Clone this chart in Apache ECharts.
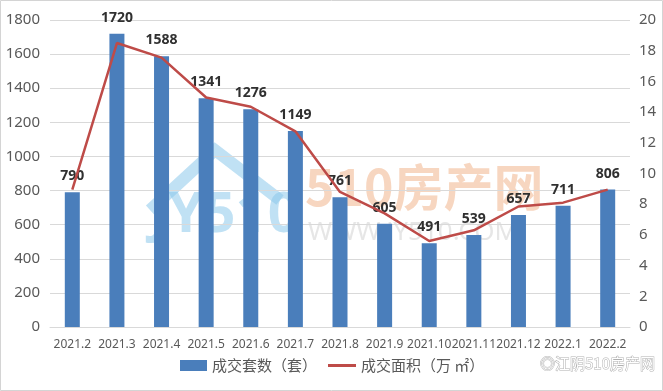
<!DOCTYPE html>
<html><head><meta charset="utf-8">
<script src="https://cdn.jsdelivr.net/npm/echarts@6/dist/echarts.min.js"></script>
<style>html,body{margin:0;padding:0;background:#fff}#c{width:663px;height:391px}</style>
</head><body><div id="c"></div>
<script>
const categories = ['2021.2','2021.3','2021.4','2021.5','2021.6','2021.7','2021.8','2021.9','2021.10','2021.11','2021.12','2022.1','2022.2'];
const unitsSold = [790,1720,1588,1341,1276,1149,761,605,491,539,657,711,806];
const areaSold = [8.95,18.5,17.55,14.95,14.35,12.75,8.8,7.4,5.6,6.3,7.85,8.1,8.95];
const leftTicks = {min:0,max:1800,interval:200};
const rightTicks = {min:0,max:20,interval:2};

const chart = echarts.init(document.getElementById('c'));
chart.setOption({
  animation:false,
  textStyle:{fontFamily:'Noto Sans, Noto Sans CJK SC'},
  grid:{left:50,right:33,top:20,bottom:64},
  legend:[
    {left:175,bottom:13,itemWidth:27,itemHeight:11,
     textStyle:{color:'#595959',fontSize:15,fontFamily:'Noto Sans CJK SC'},
     data:[{name:'成交套数（套）',icon:'rect'}]},
    {left:323,bottom:13,itemWidth:28,itemHeight:3,
     textStyle:{color:'#595959',fontSize:15,fontFamily:'Noto Sans CJK SC'},
     data:[{name:'成交面积（万 ㎡）',icon:'rect'}]}
  ],
  xAxis:{
    type:'category',data:categories,
    axisLine:{show:true,lineStyle:{color:'#d9d9d9',width:1}},
    axisTick:{show:false},
    axisLabel:{color:'#595959',fontSize:12,margin:12,interval:0}
  },
  yAxis:[
    {type:'value',min:leftTicks.min,max:leftTicks.max,interval:leftTicks.interval,
     axisLine:{show:false},axisTick:{show:false},
     axisLabel:{color:'#595959',fontSize:15,margin:10,formatter:v=>String(v)},
     splitLine:{lineStyle:{color:'#d9d9d9',width:1}}},
    {type:'value',min:rightTicks.min,max:rightTicks.max,interval:rightTicks.interval,
     axisLine:{show:false},axisTick:{show:false},
     axisLabel:{color:'#595959',fontSize:15,margin:9,formatter:v=>String(v)},
     splitLine:{show:false}}
  ],
  series:[
    {name:'成交套数（套）',type:'bar',data:unitsSold,barWidth:15,
     itemStyle:{color:'#4a7ebb'},
     label:{show:true,position:'top',distance:9,color:'#303030',fontWeight:'bold',fontSize:14}},
    {name:'成交面积（万 ㎡）',type:'line',yAxisIndex:1,data:areaSold,
     showSymbol:false,symbol:'none',
     lineStyle:{color:'#be4b48',width:2.5},itemStyle:{color:'#be4b48'}}
  ],
  graphic:[
    {type:'rect',shape:{x:0.5,y:0.5,width:662,height:390},style:{fill:'none',stroke:'#d4d4d4',lineWidth:1},z:0,silent:true},
    {type:'group',z:100,silent:true,children:[
      {type:'polyline',shape:{points:[[150,210],[215,150],[280,200]]},style:{fill:'none',stroke:'rgba(140,200,235,0.55)',lineWidth:12}},
      {type:'text',x:150,y:188,style:{text:'JY510',font:'bold 56px Noto Sans',fill:'rgba(140,200,235,0.55)'}},
      {type:'text',x:305,y:162,style:{text:'510房产网',font:'bold 50px Noto Sans CJK SC',fill:'rgba(240,180,140,0.55)'}},
      {type:'text',x:308,y:220,style:{text:'WWW.JY510.COM',font:'26px Noto Sans',fill:'rgba(200,200,200,0.45)'}},
      {type:'text',x:540,y:356,style:{text:'◎江阴510房产网',font:'15px Noto Sans CJK SC',fill:'#ffffff',stroke:'#b0b0b0',lineWidth:1}}
    ]}
  ]
});
</script></body></html>
